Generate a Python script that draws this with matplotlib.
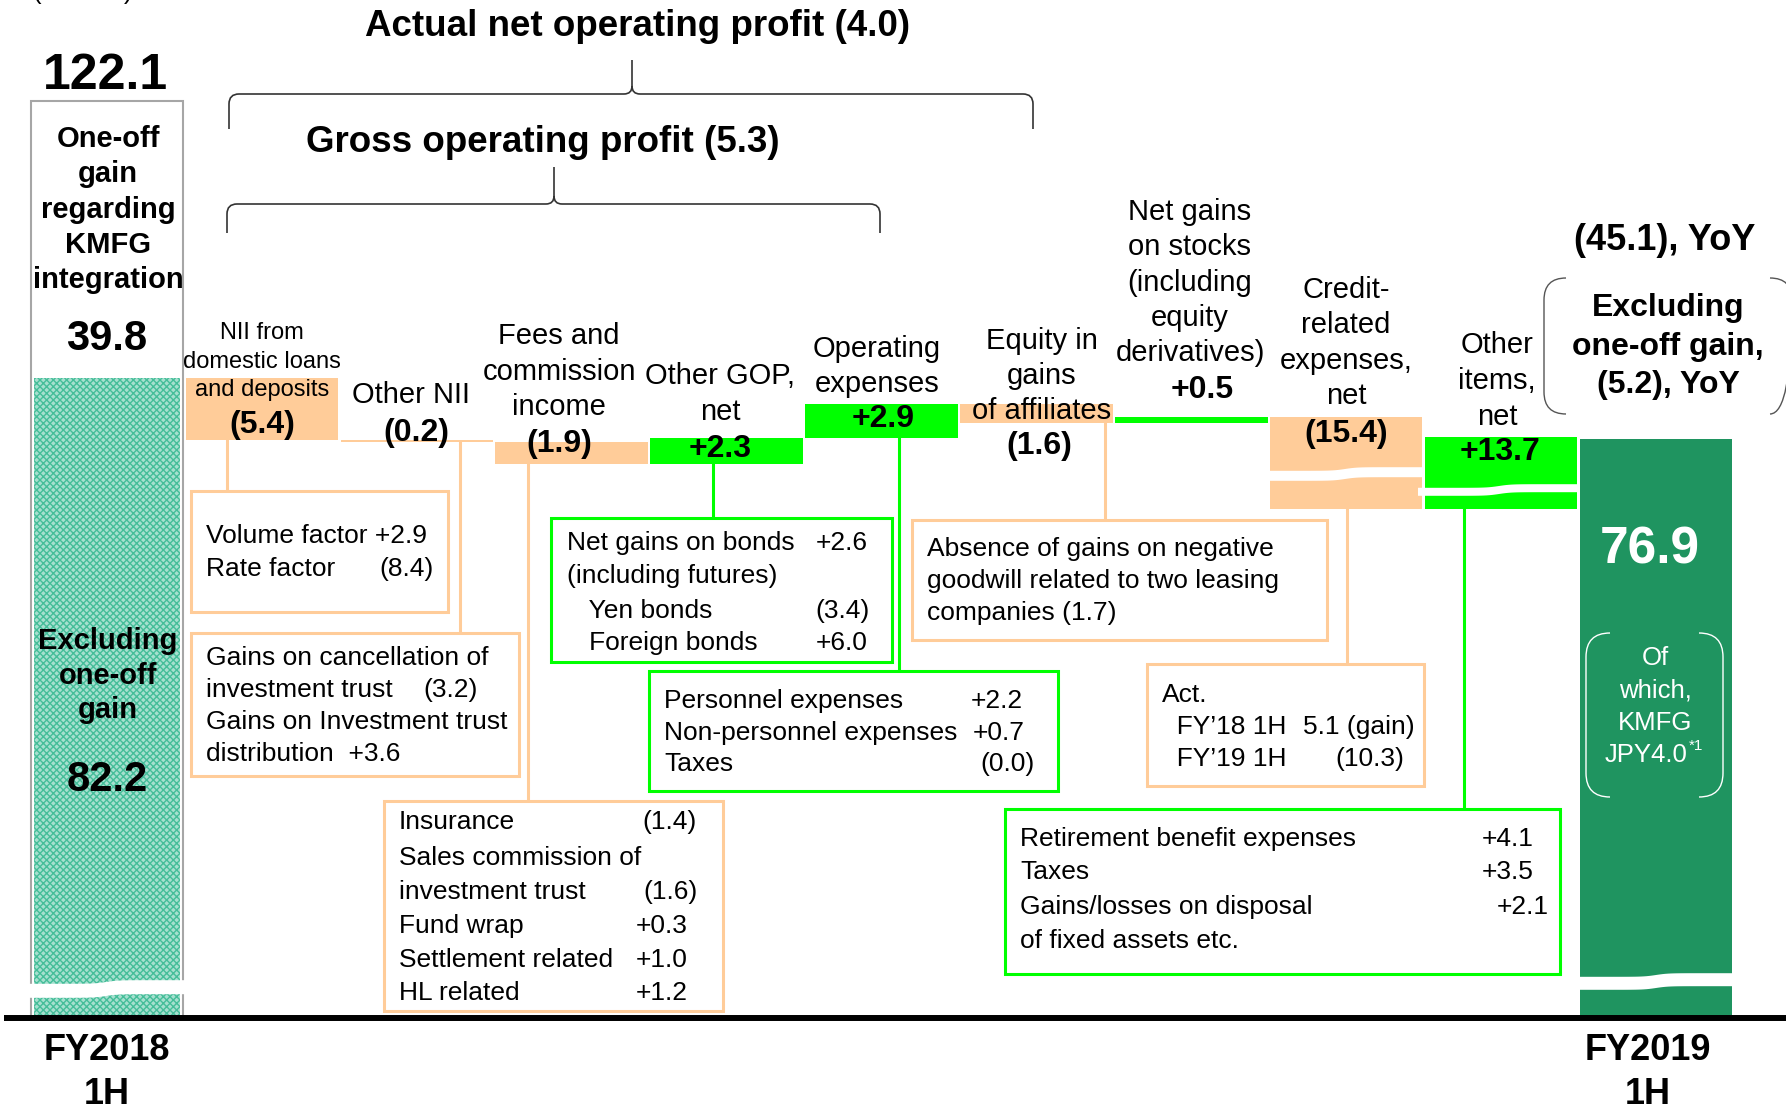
import numpy as np
import matplotlib
matplotlib.use("Agg")
import matplotlib.pyplot as plt
from matplotlib.patches import PathPatch, Rectangle
from matplotlib.path import Path
from matplotlib.lines import Line2D
from matplotlib.transforms import Affine2D

plt.rcParams['font.family'] = ['Liberation Sans', 'DejaVu Sans']

# ---------------- data ----------------
unit_note = "(JPY bn)"
period_labels = ["FY2018\n1H", "FY2019\n1H"]
start_total = 122.1
one_off_gain_label = "39.8"
start_excl_one_off = 82.2
end_total = 76.9
start_total_label = "122.1"
start_excl_label = "82.2"
end_total_label = "76.9"
categories = ["NII from\ndomestic loans\nand deposits", "Other NII",
              "Fees and\ncommission\nincome", "Other GOP,\nnet",
              "Operating\nexpenses", "Equity in\ngains\nof affiliates",
              "Net gains\non stocks\n(including\nequity\nderivatives)",
              "Credit-\nrelated\nexpenses,\nnet", "Other\nitems,\nnet"]
deltas = [-5.4, -0.2, -1.9, 2.3, 2.9, -1.6, 0.5, -15.4, 13.7]
delta_labels = ["(5.4)", "(0.2)", "(1.9)", "+2.3", "+2.9", "(1.6)", "+0.5", "(15.4)", "+13.7"]
nop_title = "Actual net operating profit (4.0)"
gop_title = "Gross operating profit (5.3)"
yoy_total_label = "(45.1), YoY"
yoy_excl_label = "Excluding\none-off gain,\n(5.2), YoY"
one_off_caption = "One-off\ngain\nregarding\nKMFG\nintegration"
excl_caption = "Excluding\none-off\ngain"
kmfg_caption = ["Of", "which,", "KMFG", "JPY4.0"]
kmfg_note = "*1"

detail_nii_dom = [("Volume factor +2.9", ""), ("Rate factor", "(8.4)")]
detail_other_nii = [("Gains on cancellation of", ""), ("investment trust", "(3.2)"),
                    ("Gains on Investment trust", ""), ("distribution  +3.6", "")]
detail_fees = [("Insurance", "(1.4)"), ("Sales commission of", ""), ("investment trust", "(1.6)"),
               ("Fund wrap", "+0.3"), ("Settlement related", "+1.0"), ("HL related", "+1.2")]
detail_other_gop = [("Net gains on bonds", "+2.6"), ("(including futures)", ""),
                    ("   Yen bonds", "(3.4)"), ("   Foreign bonds", "+6.0")]
detail_opex = [("Personnel expenses", "+2.2"), ("Non-personnel expenses", "+0.7"), ("Taxes", "(0.0)")]
detail_equity = [("Absence of gains on negative", ""), ("goodwill related to two leasing", ""),
                 ("companies (1.7)", "")]
detail_credit = [("Act.", ""), ("  FY\u201918 1H", "5.1 (gain)"), ("  FY\u201919 1H", "(10.3)")]
detail_other_items = [("Retirement benefit expenses", "+4.1"), ("Taxes", "+3.5"),
                      ("Gains/losses on disposal", "+2.1"), ("of fixed assets etc.", "")]

# ---------------- style / layout ----------------
W, H = 1786, 1111
PEACH = "#FFCC99"
GREEN = "#00FF00"
DKGREEN = "#1F9460"
TEAL = "#45BD99"

fig = plt.figure(figsize=(W / 100, H / 100), dpi=100)
ax = fig.add_axes([0, 0, 1, 1])
ax.axis('off')
PX = Affine2D().scale(1 / W, -1 / H).translate(0, 1) + fig.transFigure

# piecewise (broken) value axis: value knots -> pixel rows
kv = np.array([-1000.0, 0.0, 63.4, 74.3, 82.2, 122.1, 1000.0])
kp = np.array([1018 + 8 * 1000, 1018, 509, 378 + (82.2 - 74.3) * 11.5, 378, 101,
               101 - (1000 - 122.1) * (277 / 39.9)])


def fwd(v):
    return -np.interp(v, kv, kp)


def inv(d):
    return np.interp(d, -kp, kv)


ax.set_yscale('function', functions=(fwd, inv))
ax.set_ylim(inv(-H), inv(0))
step = 154.9
ax.set_xlim(-107 / step, -107 / step + W / step)


def pix_y(v):
    return H - ax.transData.transform((0, v))[1]


# ---------- bars ----------
levels = start_excl_one_off + np.cumsum(deltas)
prev = np.concatenate([[start_excl_one_off], levels[:-1]])
bottoms = np.minimum(prev, levels)
heights = np.abs(deltas)
colors = [GREEN if d > 0 else PEACH for d in deltas]
xi = np.arange(1, len(deltas) + 1)
ax.bar(xi, heights, bottom=bottoms, width=0.985, color=colors, linewidth=0, zorder=1)

# start bar: outline for total, textured part excluding one-off
ax.bar(0, start_total, width=0.981, color='white', edgecolor='#A6A6A6', linewidth=1.5, zorder=1)
plt.rcParams['hatch.linewidth'] = 1.0
ax.bar(0, start_excl_one_off, width=0.943, color='#A6E0CF', edgecolor=TEAL, hatch='xxxxx',
       linewidth=0, zorder=1.2)
# end bar
ax.bar(len(deltas) + 1, end_total, width=0.981, color=DKGREEN, linewidth=0, zorder=1)


# ---------- break marks ----------
def break_band(x0, x1, y0, y1):
    xs = np.linspace(x0, x1, 60)
    mid = (x0 + x1) / 2
    wob = 1.8 * np.tanh((xs - mid) / 12)
    verts = list(zip(xs, y0 - wob)) + list(zip(xs[::-1], (y1 - wob)[::-1]))
    ax.add_patch(plt.Polygon(verts, closed=True, transform=PX, facecolor='white',
                             edgecolor='none', zorder=2))


break_band(26, 186, 982, 996)
break_band(1576, 1736, 975, 988)
break_band(1266, 1424, 469, 479)
break_band(1418, 1580, 486, 494)

# baseline
ax.plot([ax.get_xlim()[0] + 4 / step, ax.get_xlim()[1]], [0, 0], color='black', lw=4.3,
        solid_capstyle='butt', zorder=4)


# ---------- text helpers ----------
def t(x, y, s, size, bold=False, color='black', ha='center', va='center', z=5):
    ax.text(x, y, s, transform=PX, fontsize=size, fontweight='bold' if bold else 'normal',
            color=color, ha=ha, va=va, zorder=z)


def tlines(x, y0, dy, s, size, bold=False, color='black', va='center'):
    for i, line in enumerate(s.split("\n")):
        t(x, y0 + i * dy, line, size, bold, color, va=va)


# top
t(83, -1, unit_note, 18.5, va='baseline')
t(105, 89, start_total_label, 36, True, va='baseline')
tlines(108, 147, 35.3, one_off_caption, 21, True, va='baseline')
t(107, 350, one_off_gain_label, 30, True, va='baseline')
tlines(108, 649, 34.5, excl_caption, 21, True, va='baseline')
t(107, 791, start_excl_label, 30, True, va='baseline')
tlines(107, 1060, 43.5, period_labels[0], 26, True, va='baseline')
tlines(1648, 1060, 43.5, period_labels[1], 26, True, va='baseline')

t(638, 27, nop_title, 26.5, True)
t(543, 143, gop_title, 26.5, True)


# braces
def brace(xl, xr, xt, yl, ye, yt, r=10, rt=8):
    M, L, C = Path.MOVETO, Path.LINETO, Path.CURVE3
    verts = [(xl, ye), (xl, yl + r), (xl, yl), (xl + r, yl), (xt - rt, yl), (xt, yl), (xt, yl - rt), (xt, yt),
             (xr, ye), (xr, yl + r), (xr, yl), (xr - r, yl), (xt + rt, yl), (xt, yl), (xt, yl - rt)]
    codes = [M, L, C, C, L, C, C, L, M, L, C, C, L, C, C]
    ax.add_patch(PathPatch(Path(verts, codes), transform=PX, facecolor='none',
                           edgecolor='#333333', lw=1.2, zorder=5))


brace(229, 1033, 632, 94, 129, 60)
brace(227, 880, 554, 204, 233, 167)


def dbracket(x0, y0, x1, y1, r, color, lw):
    M, L, C = Path.MOVETO, Path.LINETO, Path.CURVE3
    verts = [(x0 + r, y0), (x0, y0), (x0, y0 + r), (x0, y1 - r), (x0, y1), (x0 + r, y1),
             (x1 - r, y0), (x1, y0), (x1, y0 + r), (x1, y1 - r), (x1, y1), (x1 - r, y1)]
    codes = [M, C, C, L, C, C, M, C, C, L, C, C]
    ax.add_patch(PathPatch(Path(verts, codes), transform=PX, facecolor='none',
                           edgecolor=color, lw=lw, zorder=5))


# right side
t(1665, 241, yoy_total_label, 26, True)
dbracket(1544, 278, 1792, 414, 22, '#555555', 1.0)
tlines(1668, 308, 38.5, yoy_excl_label, 23, True)
t(1650, 563, end_total_label, 37, True, color='white', va='baseline')
dbracket(1586, 633, 1723, 797, 24, 'white', 1.0)
for i, s in enumerate(kmfg_caption[:-1]):
    t(1655, 665 + i * 32.5, s, 18.5, color='white', va='baseline')
t(1688, 762, kmfg_caption[-1], 18.5, color='white', ha='right', va='baseline')
t(1689, 750, kmfg_note, 11, color='white', ha='left', va='baseline')

# category labels and values
cat_layout = [(262, 333, 28.5, 17), (411, 395, 0, 21), (559, 336, 35.5, 21), (720, 376, 36, 21),
              (877, 349, 35, 21), (1042, 341, 35, 21), (1190, 212, 35.3, 21), (1346, 290, 35.3, 21),
              (1497, 345, 36, 21)]
for name, (x, y0, dy, sz) in zip(categories, cat_layout):
    tlines(x, y0, dy, name, sz)
val_layout = [(262, 425), (416, 433), (559, 444), (720, 449), (883, 419), (1039, 446),
              (1202, 390), (1346, 434), (1500, 452)]
for lab, (x, y) in zip(delta_labels, val_layout):
    t(x, y, lab, 23, True)

# connectors from bars to detail boxes
conn = [(227, 491), (460, 633), (528, 801), (713, 518), (899, 671), (1105, 520), None,
        (1347, 664), (1464, 809)]
for c, b, col in zip(conn, bottoms, colors):
    if c is None:
        continue
    x, ytop = c
    ax.add_line(Line2D([x, x], [pix_y(b), ytop], transform=PX, color=col, lw=2.2, zorder=0.5))


# detail boxes
def detail_box(rect, color, lines, left_x, ys, right_xs):
    x0, y0, x1, y1 = rect
    ax.add_patch(Rectangle((x0, y0), x1 - x0, y1 - y0, transform=PX, facecolor='white',
                           edgecolor=color, lw=2.2, zorder=3))
    for (lt, rt), y, rx in zip(lines, ys, right_xs):
        t(left_x, y, lt, 19, ha='left')
        if rt:
            t(rx, y, rt, 19, ha='right')


detail_box((191, 491, 448, 612), PEACH, detail_nii_dom, 206, [536, 569], [None, 434])
detail_box((191, 633, 519, 776), PEACH, detail_other_nii, 206, [658, 690, 722, 754],
           [None, 478, None, None])
detail_box((384, 801, 723, 1011), PEACH, detail_fees, 399, [822, 858, 892, 926, 960, 993],
           [697, None, 698, 688, 688, 688])
detail_box((551, 518, 892, 662), GREEN, detail_other_gop, 567, [543, 576, 611, 643],
           [868, None, 870, 868])
detail_box((649, 671, 1058, 791), GREEN, detail_opex, 664, [701, 733, 764], [1023, 1025, 1035])
detail_box((912, 520, 1327, 640), PEACH, detail_equity, 927, [549, 581, 613], [None] * 3)
detail_box((1147, 664, 1424, 786), PEACH, detail_credit, 1162, [695, 727, 759], [None, 1415, 1404])
detail_box((1005, 809, 1560, 974), GREEN, detail_other_items, 1020, [839, 872, 907, 941],
           [1534, 1534, 1549, None])

fig.savefig("out.png", dpi=100)
